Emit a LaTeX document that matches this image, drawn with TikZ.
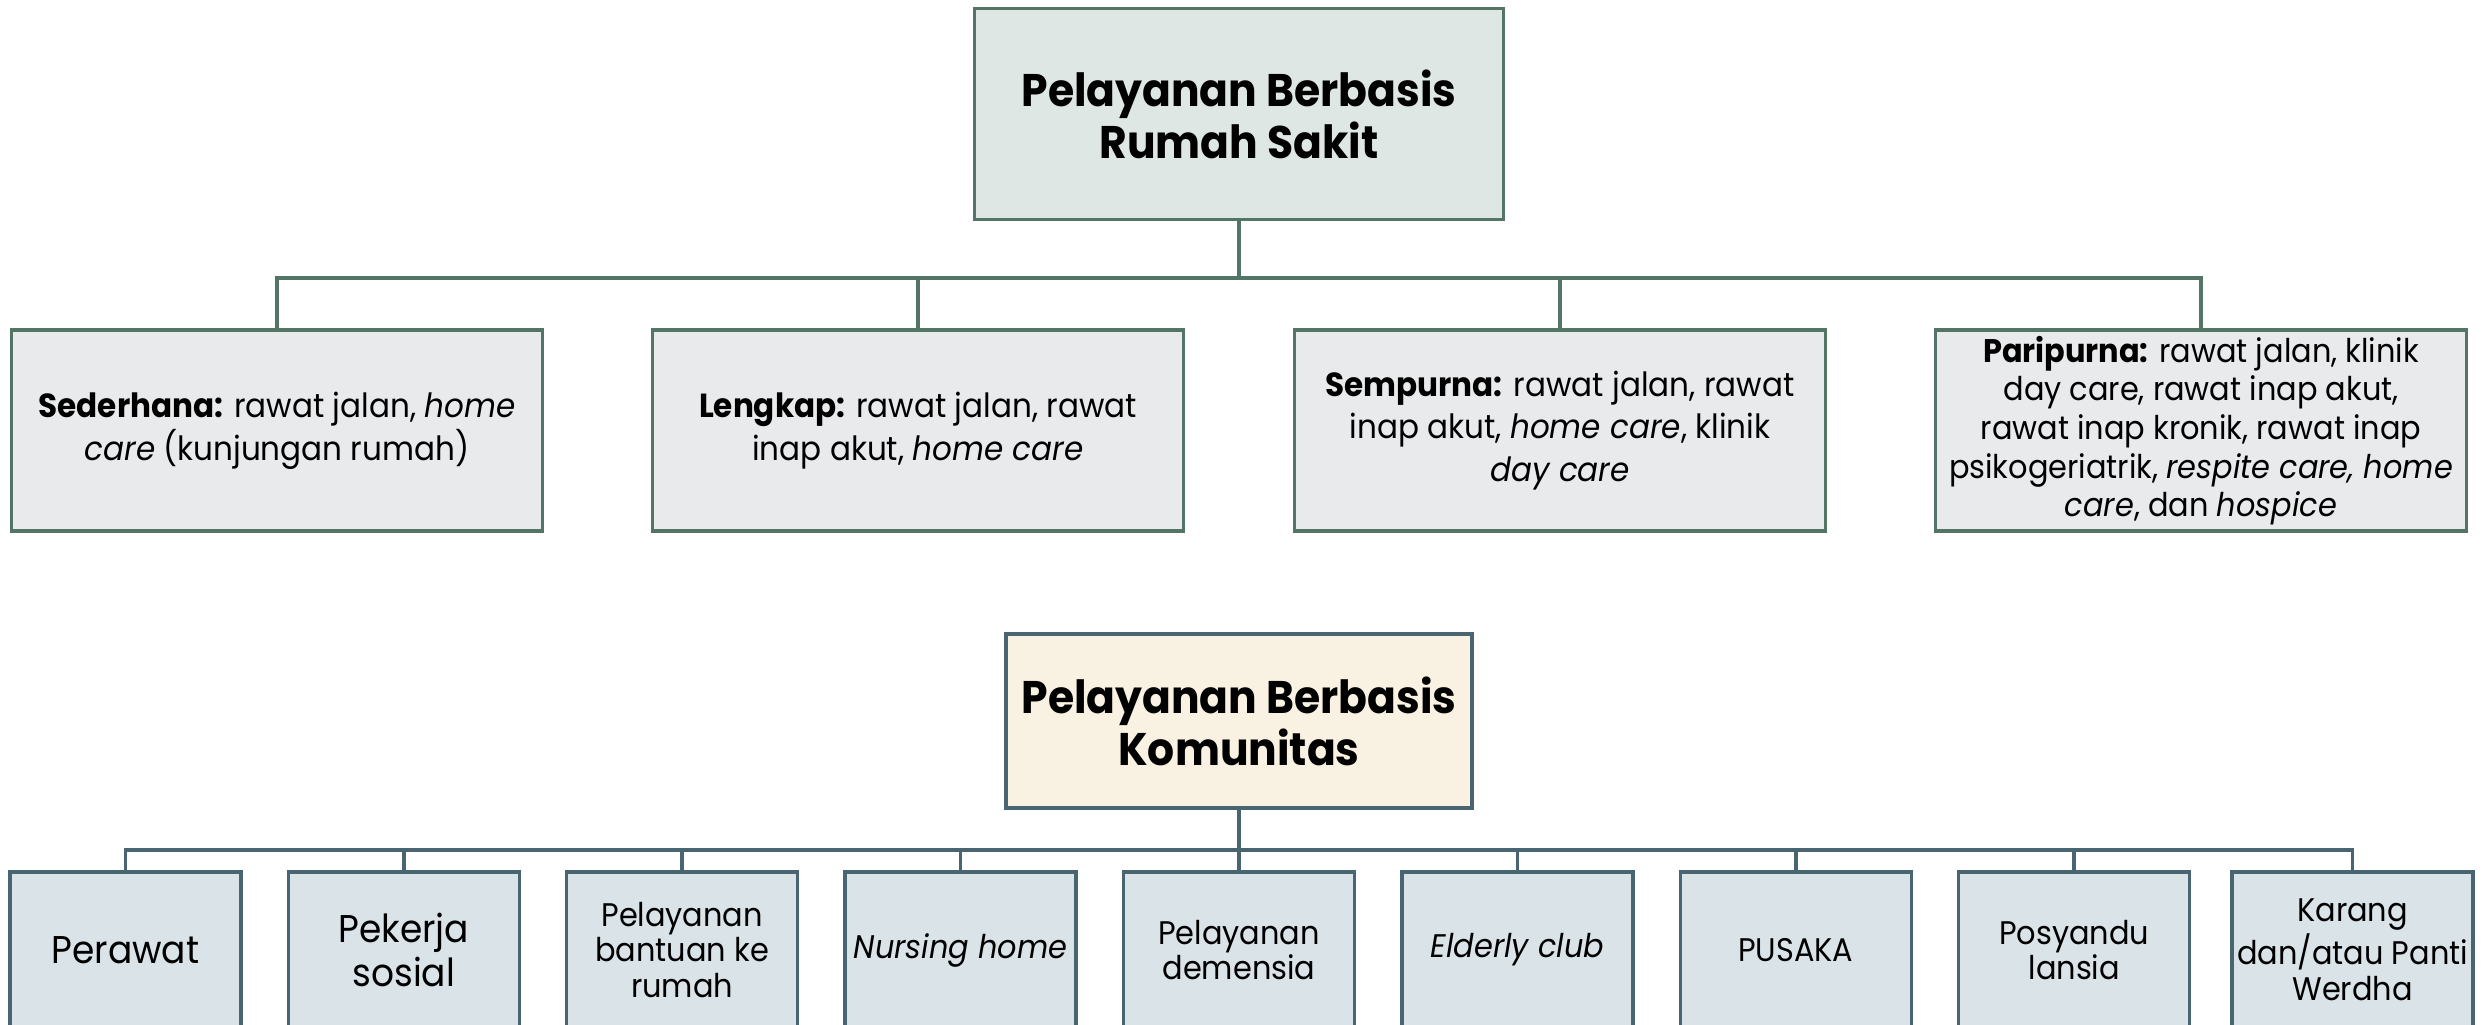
\documentclass[tikz,border=0pt]{standalone}
\usepackage{fontspec}
\setmainfont{Poppins}[FakeStretch=0.93]
\usepackage{tikz}

\definecolor{rsfill}{HTML}{DEE7E3}
\definecolor{rschild}{HTML}{E9EAEC}
\definecolor{rsline}{HTML}{527566}
\definecolor{komfill}{HTML}{F9F1E1}
\definecolor{komchild}{HTML}{DAE3E8}
\definecolor{komline}{HTML}{4A6572}

\begin{document}
\begin{tikzpicture}[x=1cm,y=1cm]
 \tikzstyle{every node}=[draw,align=center,inner sep=0.5mm,line width=1pt]
 \tikzstyle{hrs} = [fill=rsfill,draw=rsline,minimum width=5.29cm,minimum height=2.11cm,font=\fontsize{13}{14.8}\selectfont\bfseries]
 \tikzstyle{crs} = [fill=rschild,draw=rsline,minimum width=5.31cm,minimum height=2.01cm,font=\fontsize{9.5}{12.2}\selectfont]
 \tikzstyle{hkom} = [fill=komfill,draw=komline,minimum width=4.66cm,minimum height=1.74cm,font=\fontsize{13}{14.8}\selectfont\bfseries]
 \tikzstyle{ckom} = [fill=komchild,draw=komline,minimum width=2.31cm,minimum height=1.56cm,font=\fontsize{9.3}{10.2}\selectfont]
 \tikzstyle{lrs} = [draw=rsline,line width=1pt]
 \tikzstyle{lkom} = [draw=komline,line width=1pt]
 \useasboundingbox (0,0) rectangle (24.84,-10.25);
 \draw
 (12.39,-1.14) node[hrs] (RS) {Pelayanan Berbasis\\Rumah Sakit}
 (RS) ++(-9.62,-3.165) node[crs] (Sederhana) {\textbf{Sederhana:} rawat jalan, \textit{home}\\\textit{care} (kunjungan rumah)}
 (RS) ++(-3.21,-3.165) node[crs] (Lengkap) {\textbf{Lengkap:} rawat jalan, rawat\\inap akut, \textit{home care}}
 (RS) ++(3.21,-3.165) node[crs] (Sempurna) {\textbf{Sempurna:} rawat jalan, rawat\\inap akut, \textit{home care}, klinik\\\textit{day care}}
 (RS) ++(9.62,-3.165) node[crs,font=\fontsize{9.3}{11}\selectfont] (Paripurna) {\textbf{Paripurna:} rawat jalan, klinik\\day care, rawat inap akut,\\rawat inap kronik, rawat inap\\psikogeriatrik, \textit{respite care, home}\\\textit{care}, dan \textit{hospice}}
 (RS) ++(0,-6.07) node[hkom] (Kom) {Pelayanan Berbasis\\Komunitas}
 (Kom) ++(-11.136,-2.29) node[ckom,font=\fontsize{11}{12.5}\selectfont] (Perawat) {Perawat}
 (Kom) ++(-8.352,-2.29) node[ckom,font=\fontsize{11}{12.5}\selectfont] (Pekerja) {Pekerja\\sosial}
 (Kom) ++(-5.568,-2.29) node[ckom] (Bantuan) {Pelayanan\\bantuan ke\\rumah}
 (Kom) ++(-2.784,-2.29) node[ckom] (Nursing) {\textit{Nursing home}}
 (Kom) ++(0,-2.29) node[ckom] (Demensia) {Pelayanan\\demensia}
 (Kom) ++(2.784,-2.29) node[ckom] (Elderly) {\textit{Elderly club}}
 (Kom) ++(5.568,-2.29) node[ckom] (Pusaka) {PUSAKA}
 (Kom) ++(8.352,-2.29) node[ckom] (Posyandu) {Posyandu\\lansia}
 (Kom) ++(11.136,-2.29) node[ckom] (Werdha) {Karang\\dan/atau Panti\\Werdha}
 ;
 \path [lrs] (RS.south) -- ++(0,-0.565) -| (Sederhana.north);
 \path [lrs] (RS.south) -- ++(0,-0.565) -| (Lengkap.north);
 \path [lrs] (RS.south) -- ++(0,-0.565) -| (Sempurna.north);
 \path [lrs] (RS.south) -- ++(0,-0.565) -| (Paripurna.north);
 \path [lkom] (Kom.south) -- ++(0,-0.40) -| (Perawat.north);
 \path [lkom] (Kom.south) -- ++(0,-0.40) -| (Pekerja.north);
 \path [lkom] (Kom.south) -- ++(0,-0.40) -| (Bantuan.north);
 \path [lkom] (Kom.south) -- ++(0,-0.40) -| (Nursing.north);
 \path [lkom] (Kom.south) -- ++(0,-0.40) -| (Demensia.north);
 \path [lkom] (Kom.south) -- ++(0,-0.40) -| (Elderly.north);
 \path [lkom] (Kom.south) -- ++(0,-0.40) -| (Pusaka.north);
 \path [lkom] (Kom.south) -- ++(0,-0.40) -| (Posyandu.north);
 \path [lkom] (Kom.south) -- ++(0,-0.40) -| (Werdha.north);
\end{tikzpicture}
\end{document}
